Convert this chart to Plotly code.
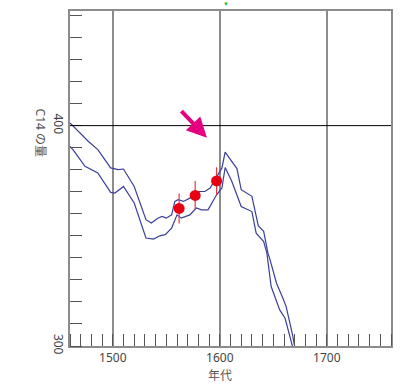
import plotly.graph_objects as go

# Calibration band: upper curve
upper_year = [1460, 1477, 1486, 1498, 1505, 1510, 1520, 1531, 1536, 1542, 1546, 1550, 1555, 1558,
              1561, 1566, 1572, 1581, 1586, 1591, 1602, 1605, 1616, 1620, 1630, 1636, 1641, 1645,
              1647, 1653, 1659, 1662, 1668, 1670]
upper_c14 = [401.2, 392.9, 389.1, 380.8, 380.0, 380.3, 372.4, 357.3, 355.8, 358.0, 358.8, 358.0, 359.5, 365.6,
             366.4, 365.6, 367.1, 370.1, 370.1, 371.7, 380.8, 388.0, 380.5, 370.9, 367.9, 354.5, 352.0, 342.1,
             339.1, 328.5, 321.7, 317.9, 305.0, 299.7]

# Calibration band: lower curve
lower_year = [1460, 1464, 1474, 1486, 1498, 1502, 1510, 1520, 1531, 1538, 1544, 1549, 1555, 1560,
              1564, 1572, 1578, 1583, 1589, 1597, 1602, 1605, 1611, 1620, 1630, 1634, 1641, 1644,
              1648, 1656, 1661, 1665, 1668]
lower_c14 = [390.6, 388.3, 381.5, 378.5, 369.7, 369.4, 372.4, 364.9, 349.0, 348.5, 350.0, 350.5, 353.5, 359.5,
             358.0, 359.5, 362.6, 361.8, 361.8, 368.6, 371.7, 381.0, 375.0, 363.3, 361.0, 351.2, 347.4, 342.1,
             327.0, 316.4, 312.6, 305.0, 299.7]

# Measured samples
sample_year = [1562, 1577, 1597]
sample_c14 = [362.4, 368.3, 374.9]
sample_err = [6.8, 6.6, 6.2]

reference_level = 400
x_tick_vals = [1500, 1600, 1700]
x_tick_text = ["1500", "1600", "1700"]
y_tick_vals = [300, 400]
y_tick_text = ["300", "400"]

arrow_year, arrow_c14 = 1588, 394.5
top_marker_year = 1606

line_color = "#3b3f9c"
axis_color = "#8c8c8c"
font_family = "Noto Sans, Noto Sans CJK JP, sans-serif"

fig = go.Figure()
fig.add_trace(go.Scatter(x=upper_year, y=upper_c14, mode="lines",
                         line=dict(color=line_color, width=1.2), showlegend=False))
fig.add_trace(go.Scatter(x=lower_year, y=lower_c14, mode="lines",
                         line=dict(color=line_color, width=1.2), showlegend=False))
fig.add_trace(go.Scatter(x=sample_year, y=sample_c14, mode="markers",
                         marker=dict(color="#e60012", size=11),
                         error_y=dict(type="data", array=sample_err, color="#e8383d", thickness=1.2, width=0),
                         showlegend=False))

fig.add_shape(type="line", xref="paper", x0=0, x1=1, yref="y", y0=reference_level, y1=reference_level,
              line=dict(color="black", width=1))

fig.add_annotation(x=arrow_year, y=arrow_c14, xref="x", yref="y", ax=-27, ay=-28,
                   showarrow=True, arrowhead=2, arrowsize=1, arrowwidth=4, arrowcolor="#e4007f", text="")
fig.add_annotation(x=top_marker_year, y=1.0, xref="x", yref="paper", yanchor="bottom", yshift=1,
                   text="▼", showarrow=False, font=dict(size=6, color="#2db52d"))

fig.add_annotation(text="C14 の量", xref="paper", yref="paper", x=-0.125, y=0.636,
                   textangle=90, showarrow=False, font=dict(size=12, color="#555555", family=font_family))
fig.add_annotation(text="年代", xref="paper", yref="paper", x=0.467, y=-0.088, yanchor="middle",
                   showarrow=False, font=dict(size=12, color="#555555", family=font_family))

fig.update_xaxes(range=[1460, 1760], tickvals=x_tick_vals, ticktext=x_tick_text, automargin=False,
                 showgrid=True, gridcolor=axis_color, gridwidth=2,
                 showline=True, linecolor=axis_color, linewidth=2, mirror=True,
                 ticks="", zeroline=False,
                 minor=dict(ticks="inside", dtick=10, tick0=1460, ticklen=12, tickcolor="#555555",
                            tickwidth=1, showgrid=False),
                 tickfont=dict(size=12, color="#444444", family=font_family))
fig.update_yaxes(range=[300, 452], tickvals=y_tick_vals, ticktext=y_tick_text, tickangle=90, automargin=False,
                 showgrid=False, showline=True, linecolor=axis_color, linewidth=2, mirror=True,
                 ticks="", zeroline=False,
                 minor=dict(ticks="inside", dtick=10, tick0=300, ticklen=12, tickcolor="#555555",
                            tickwidth=1, showgrid=False),
                 tickfont=dict(size=12, color="#444444", family=font_family))

fig.update_layout(width=402, height=385, margin=dict(l=70, r=11, t=11, b=39),
                  plot_bgcolor="white", paper_bgcolor="white")

fig.write_html("out.html", config={"displayModeBar": False},
               post_script="document.body.style.margin='0';document.body.style.overflow='hidden';")
